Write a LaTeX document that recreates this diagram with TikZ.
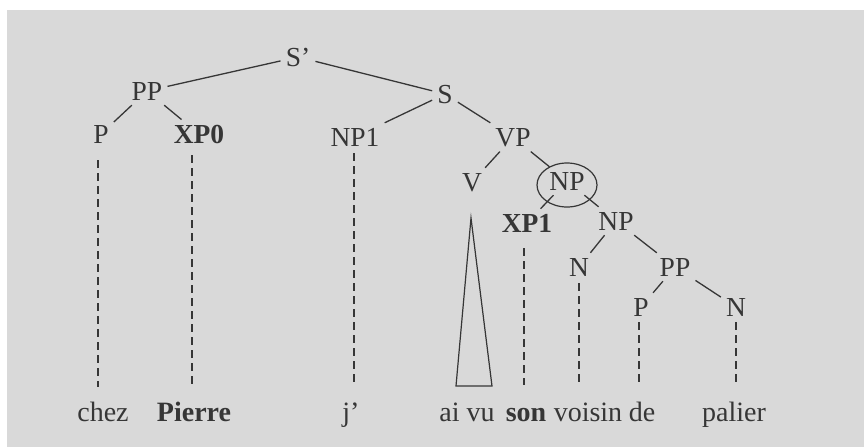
\documentclass[tikz,border=0pt]{standalone}
\usepackage{fontspec}
\setmainfont{Liberation Serif}
\definecolor{bg}{HTML}{D9D9D9}
\definecolor{ink}{HTML}{363636}
\begin{document}
\begin{tikzpicture}[x=1pt,y=-1pt,
  lab/.style={anchor=base, text=ink, inner sep=5pt, font=\fontsize{27.5}{30}\selectfont},
  wrd/.style={anchor=base, text=ink, inner sep=0pt, font=\fontsize{28}{30}\selectfont},
  edge/.style={draw=ink, line width=1.3pt},
  dsh/.style={draw=ink, line width=1.1pt, dash pattern=on 8pt off 5pt}]
\useasboundingbox (0,0) rectangle (864,447);
\fill[bg] (7,10) rectangle (864,447);

% tree nodes
\node[lab] (Sp)  at (298,66)  {S'};
\node[lab] (PPa) at (147,100) {PP};
\node[lab] (S)   at (445,103) {S};
\node[lab] (Pa)  at (101,143) {P};
\node[lab] (XP0) at (199,143) {\textbf{XP0}};
\node[lab] (NP1) at (355,146) {NP1};
\node[lab] (VP)  at (513,146) {VP};
\node[lab] (V)   at (472,191) {V};
\node[lab] (NPc) at (567,190) {NP};
\node[lab] (XP1) at (527,232) {\textbf{XP1}};
\node[lab] (NPb) at (616,230) {NP};
\node[lab] (Nb)  at (579,276) {N};
\node[lab] (PPb) at (675,276) {PP};
\node[lab] (Pc)  at (641,316) {P};
\node[lab] (Nc)  at (736,316) {N};

% circle round the NP
\draw[ink, line width=1.2pt] (567,185) ellipse [x radius=30pt, y radius=22pt];

% words
\node[wrd] (w1) at (103,421) {chez};
\node[wrd] (w2) at (194,421) {\textbf{Pierre}};
\node[wrd] (w3) at (351,421) {j'};
\node[wrd] (w4) at (467,421) {ai vu};
\node[wrd] (w5) at (526,421) {\textbf{son}};
\node[wrd] (w6) at (588,421) {voisin};
\node[wrd] (w7) at (642,421) {de};
\node[wrd] (w8) at (734,421) {palier};

% solid branches
\draw[edge] (Sp) -- (PPa);
\draw[edge] (Sp) -- (S);
\draw[edge] (PPa) -- (Pa);
\draw[edge] (PPa) -- (XP0);
\draw[edge] (S) -- (NP1);
\draw[edge] (S) -- (VP);
\draw[edge] (VP) -- (V);
\draw[edge] (VP) -- (NPc);
\draw[edge] (NPc) -- (XP1);
\draw[edge] (NPc) -- (NPb);
\draw[edge] (NPb) -- (Nb);
\draw[edge] (NPb) -- (PPb);
\draw[edge] (PPb) -- (Pc);
\draw[edge] (PPb) -- (Nc);

% triangle under V
\draw[ink, line width=1.2pt, line join=miter] (471,218) -- (456,386) -- (492,386) -- cycle;

% dashed lines
\coordinate (d1) at (98,387);
\coordinate (d2) at (192,387);
\coordinate (d3) at (354,387);
\coordinate (d5) at (524,385);
\coordinate (d6) at (579,385);
\coordinate (d7) at (639,385);
\coordinate (d8) at (736,385);
\draw[dsh] (Pa.south -| d1) ++(0,12) -- (d1);
\draw[dsh] (XP0.south -| d2) ++(0,7) -- (d2);
\draw[dsh] (NP1.south -| d3) ++(0,2) -- (d3);
\draw[dsh] (XP1.south -| d5) ++(0,11) -- (d5);
\draw[dsh] (Nb.south -| d6) ++(0,2) -- (d6);
\draw[dsh] (Pc.south -| d7) ++(0,1) -- (d7);
\draw[dsh] (Nc.south -| d8) ++(0,1) -- (d8);
\end{tikzpicture}
\end{document}
